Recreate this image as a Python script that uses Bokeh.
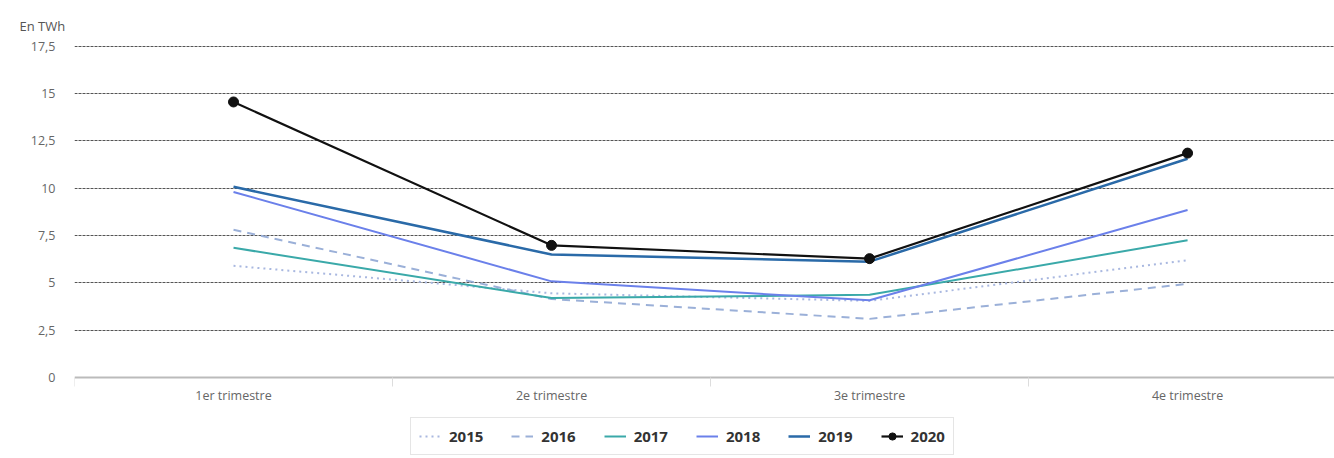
from bokeh.plotting import figure
from bokeh.models import FixedTicker, Legend, LegendItem, Range1d, Title
from bokeh.embed import file_html
from bokeh.resources import INLINE

categories = ["1er trimestre", "2e trimestre", "3e trimestre", "4e trimestre"]
years = ["2015", "2016", "2017", "2018", "2019", "2020"]
v2015 = [5.9, 4.45, 4.05, 6.2]
v2016 = [7.8, 4.15, 3.1, 4.95]
v2017 = [6.85, 4.2, 4.37, 7.25]
v2018 = [9.8, 5.08, 4.08, 8.85]
v2019 = [10.07, 6.5, 6.12, 11.55]
v2020 = [14.55, 6.98, 6.28, 11.85]
y_ticks = [0, 2.5, 5, 7.5, 10, 12.5, 15, 17.5]

series = [v2015, v2016, v2017, v2018, v2019, v2020]
colors = ["#a9b8e0", "#9bb0d8", "#3aa9a9", "#6b80ea", "#2a6aa8", "#111111"]
dashes = ["dotted", "8 6", "solid", "solid", "solid", "solid"]
widths = [2, 2, 2, 2, 2.5, 2.2]

xs = [i + 0.5 for i in range(len(categories))]

p = figure(width=1334, height=458, output_backend="svg", toolbar_location=None,
           x_range=Range1d(0, 3.962), y_range=Range1d(-4.27, 17.53),
           min_border_left=74, min_border_right=0, min_border_top=45, min_border_bottom=0)
p.outline_line_color = None
p.background_fill_color = "white"

t = Title(text="En TWh", text_font="Open Sans", text_font_size="13px",
          text_color="#555555", text_font_style="normal", offset=-55, standoff=22)
p.add_layout(t, "above")

items = []
for name, vals, c, d, w in zip(years, series, colors, dashes, widths):
    r = p.line(xs, vals, line_color=c, line_dash=d, line_width=w)
    rs = [r]
    if name == "2020":
        s = p.scatter(xs, vals, size=10, fill_color=c, line_color=c)
        rs.append(s)
    items.append(LegendItem(label=name, renderers=rs))

# y axis
p.yaxis.ticker = FixedTicker(ticks=y_ticks)
p.yaxis.major_label_overrides = {v: (str(v).replace(".", ",") if v % 1 else str(int(v))) for v in y_ticks}
p.yaxis.axis_line_color = None
p.yaxis.major_tick_line_color = None
p.yaxis.minor_tick_line_color = None
p.yaxis.major_label_text_font = "Open Sans"
p.yaxis.major_label_text_font_size = "12.5px"
p.yaxis.major_label_text_color = "#666666"
p.yaxis.major_label_standoff = 13

# x axis
p.xaxis.fixed_location = 0
p.xaxis.ticker = FixedTicker(ticks=xs, minor_ticks=[0, 1, 2, 3])
p.xaxis.major_label_overrides = {x: c for x, c in zip(xs, categories)}
p.xaxis.axis_line_color = "#bbbbbb"
p.xaxis.axis_line_width = 2
p.xaxis.major_tick_line_color = None
p.xaxis.minor_tick_line_color = "#dddddd"
p.xaxis.minor_tick_out = 9
p.xaxis.minor_tick_in = 0
p.xaxis.major_label_text_font = "Open Sans"
p.xaxis.major_label_text_font_size = "12.5px"
p.xaxis.major_label_text_color = "#666666"
p.xaxis.major_label_standoff = 0

p.xgrid.grid_line_color = None
p.ygrid.ticker = FixedTicker(ticks=y_ticks[1:])
p.ygrid.grid_line_color = "#555555"
p.ygrid.grid_line_dash = "3 1"
p.ygrid.grid_line_width = 1

legend = Legend(items=items, orientation="horizontal", location=(336, 3),
                label_text_font="Open Sans", label_text_font_style="bold",
                label_text_font_size="15px", label_text_color="#333333",
                glyph_width=22, glyph_height=18, spacing=28, padding=8, margin=0,
                border_line_color="#cccccc", border_line_width=1,
                label_standoff=8)
p.add_layout(legend, "center")

open("out.html", "w").write(file_html(p, INLINE))
